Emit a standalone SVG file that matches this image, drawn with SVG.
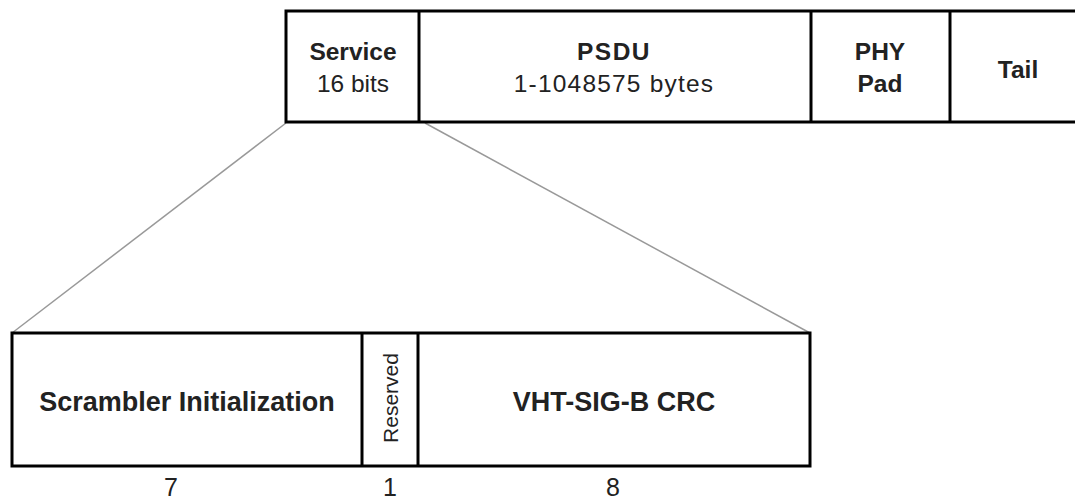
<svg xmlns="http://www.w3.org/2000/svg" width="1075" height="503" viewBox="0 0 1075 503">
<style>
.box{fill:#fff;stroke:#000;stroke-width:3}
.div{stroke:#000;stroke-width:3}
.con{stroke:#999;stroke-width:1.5;fill:none}
text{font-family:"Liberation Sans",Arial,sans-serif;fill:#222;text-anchor:middle}
.b{font-weight:bold}
.t{font-size:24.5px}
.L{font-size:27px}
.n{font-size:25px}
</style>
<rect width="1075" height="503" fill="#fff"/>
<g id="connectors">
<line class="con" x1="286" y1="123" x2="12" y2="333"/>
<line class="con" x1="425" y1="123" x2="810" y2="333"/>
</g>
<g id="frame">
<rect class="box" x="286" y="11" width="800" height="111"/>
</g>
<g id="service">
<text class="t b" x="353" y="60">Service</text>
<text class="t" x="353" y="92">16 bits</text>
</g>
<g id="psdu">
<line class="div" x1="419" y1="11" x2="419" y2="122"/>
<text class="t b" x="614" y="60" letter-spacing="1.5">PSDU</text>
<text class="t" x="614" y="92" letter-spacing="1.2">1-1048575 bytes</text>
</g>
<g id="phypad">
<line class="div" x1="811" y1="11" x2="811" y2="122"/>
<text class="t b" x="880" y="60">PHY</text>
<text class="t b" x="880" y="92">Pad</text>
</g>
<g id="tail">
<line class="div" x1="950" y1="11" x2="950" y2="122"/>
<text class="t b" x="1018" y="78">Tail</text>
</g>
<g id="service-bits">
<rect class="box" x="12" y="333" width="798" height="133"/>
</g>
<g id="scrambler">
<text class="L b" x="187" y="411">Scrambler Initialization</text>
<text class="n" x="171" y="496">7</text>
</g>
<g id="reserved">
<line class="div" x1="362" y1="333" x2="362" y2="466"/>
<text font-size="21" transform="translate(398,398) rotate(-90)">Reserved</text>
<text class="n" x="390" y="496">1</text>
</g>
<g id="crc">
<line class="div" x1="418" y1="333" x2="418" y2="466"/>
<text class="L b" x="614" y="411">VHT-SIG-B CRC</text>
<text class="n" x="613" y="496">8</text>
</g>
</svg>
